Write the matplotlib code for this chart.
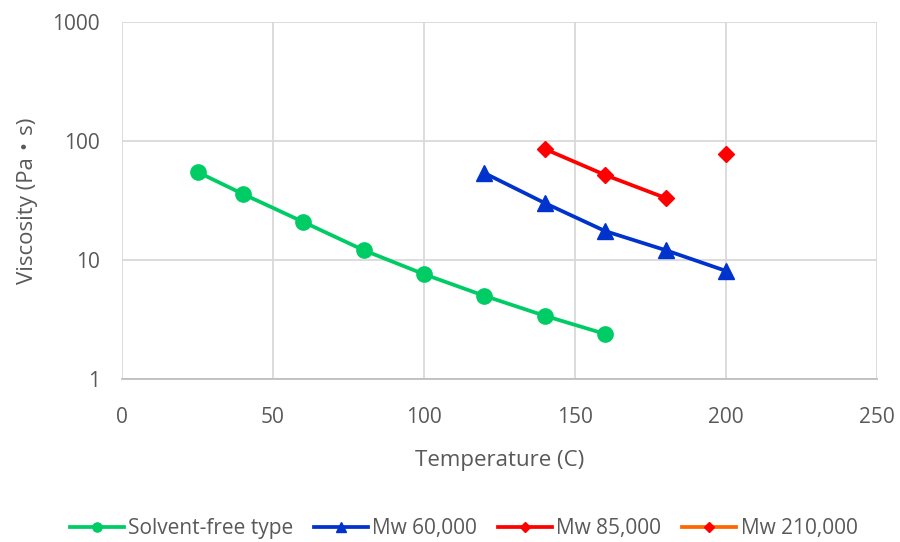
import matplotlib
matplotlib.use("Agg")
import matplotlib.pyplot as plt
from matplotlib.ticker import FixedLocator, FixedFormatter, NullLocator

plt.rcParams['font.family'] = ['Open Sans', 'DejaVu Sans']

sf_x = [25, 40, 60, 80, 100, 120, 140, 160]
sf_y = [54.9, 35.9, 20.9, 12.1, 7.6, 5.0, 3.4, 2.39]
m60_x = [120, 140, 160, 180, 200]
m60_y = [53.8, 30.1, 17.5, 12.1, 8.1]
m85_x = [140, 160, 180]
m85_y = [85.7, 51.8, 33.2]
m210_x = [200]
m210_y = [77.8]

x_ticks = [0, 50, 100, 150, 200, 250]
y_ticks = [1, 10, 100, 1000]
y_labels = ['1', '10', '100', '1000']

fig = plt.figure(figsize=(9, 5.42), dpi=100)
ax = fig.add_axes([0.1356, 0.3007, 0.8388, 0.6587])

lw = 2.7
ax.plot(sf_x, sf_y, color='#00CC66', lw=lw, marker='o', ms=11, label='Solvent-free type', zorder=3)
ax.plot(m60_x, m60_y, color='#0033CC', lw=lw, marker='^', ms=12, label='Mw 60,000', zorder=3)
ax.plot(m85_x, m85_y, color='#FF0000', lw=lw, marker='D', ms=8, label='Mw 85,000', zorder=3)
ax.plot(m210_x, m210_y, color='#FF6600', lw=lw, marker='D', ms=8, mfc='#FF0000', mec='#FF0000',
        label='Mw 210,000', zorder=3)

ax.set_yscale('log')
ax.set_xlim(0, 250)
ax.set_ylim(1, 1000)
ax.xaxis.set_major_locator(FixedLocator(x_ticks))
ax.yaxis.set_major_locator(FixedLocator(y_ticks))
ax.yaxis.set_major_formatter(FixedFormatter(y_labels))
ax.yaxis.set_minor_locator(NullLocator())

ax.grid(True, color='#D9D9D9', lw=1.3, zorder=0)
for s in ['top', 'right', 'left']:
    ax.spines[s].set_visible(False)
ax.spines['bottom'].set_color('#BFBFBF')
ax.spines['bottom'].set_linewidth(1.3)
ax.tick_params(length=0, labelsize=15, labelcolor='#595959')
ax.tick_params(axis='x', pad=20)
ax.tick_params(axis='y', pad=16)

ax.set_xlabel('Temperature (C)', fontsize=16, color='#595959', labelpad=16)
ax.set_ylabel('Viscosity (Pa・s)', fontsize=16, color='#595959', labelpad=10,
              family=['Open Sans', 'Noto Sans CJK JP', 'DejaVu Sans'])

leg = fig.legend(loc='center', bbox_to_anchor=(0.515, 0.025), ncol=4, frameon=False,
                 fontsize=15, handlelength=2.6, columnspacing=1.0, handletextpad=0.2,
                 markerscale=0.6, labelcolor='#595959')

fig.savefig('out.png', dpi=100)
